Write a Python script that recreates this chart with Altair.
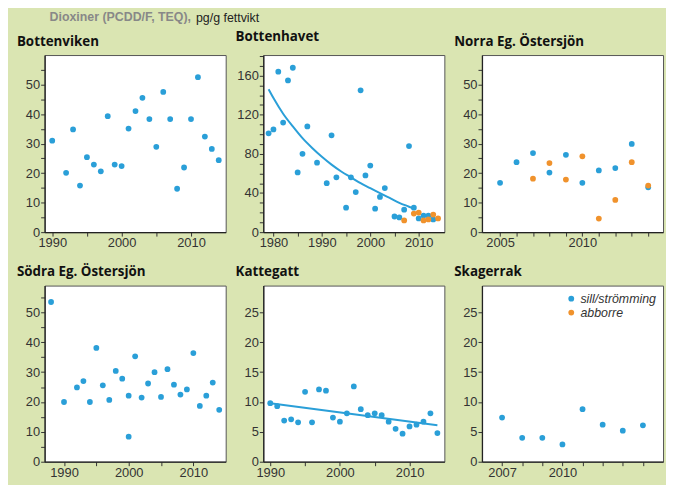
import altair as alt
import pandas as pd

BLUE = "#2a9fd8"
ORANGE = "#f0922c"
BG = "#dae5b2"
LAB = "Liberation Sans"
SERIES = ["sill/strömming", "abborre"]

# ---- data ----
bv_years = [1990, 1992, 1993, 1994, 1995, 1996, 1997, 1998, 1999, 2000, 2001, 2002,
            2003, 2004, 2005, 2006, 2007, 2008, 2009, 2010, 2011, 2012, 2013, 2014]
bv_sill = [31.0, 20.1, 34.8, 15.8, 25.4, 22.9, 20.6, 39.3, 22.9, 22.4, 35.1, 41.0,
           45.5, 38.3, 28.9, 47.5, 38.3, 14.7, 21.9, 38.3, 52.5, 32.4, 28.2, 24.4]

bh_years = [1979, 1980, 1981, 1982, 1983, 1984, 1985, 1986, 1987, 1989, 1991, 1992,
            1993, 1995, 1996, 1997, 1998, 1999, 2000, 2001, 2002, 2003, 2005, 2006,
            2007, 2008, 2009, 2010, 2011, 2012, 2013]
bh_sill = [101, 105, 164, 112, 155, 168, 61, 80, 108, 71, 50, 99,
           56, 25, 56, 41, 145, 58, 68, 24, 36, 45, 16, 15,
           23, 88, 25, 14, 17, 17, 13]
bh_abb_years = [2007, 2009, 2010, 2011, 2012, 2013, 2014]
bh_abb = [12, 19, 20, 12, 13, 18, 14]
bh_trend_years = [1979, 1980, 1982, 1984, 1986, 1988, 1990, 1992, 1994, 1996, 1998,
                  2000, 2002, 2004, 2006, 2008, 2009]
bh_trend = [146, 137, 121, 108, 96, 86, 77, 69, 62, 56, 50, 45, 40, 35, 30, 26, 24]

ne_years = [2005, 2006, 2007, 2008, 2009, 2010, 2011, 2012, 2013, 2014]
ne_sill = [16.7, 23.7, 26.8, 20.2, 26.2, 16.7, 20.9, 21.7, 29.9, 15.2]
ne_abb_years = [2007, 2008, 2009, 2010, 2011, 2012, 2013, 2014]
ne_abb = [18.1, 23.4, 17.8, 25.7, 4.6, 10.9, 23.7, 15.8]

se_years = [1988, 1990, 1992, 1993, 1994, 1995, 1996, 1997, 1998, 1999, 2000, 2000,
            2001, 2002, 2003, 2004, 2005, 2006, 2007, 2008, 2009, 2010, 2011, 2012,
            2013, 2014]
se_sill = [53.5, 20.0, 24.9, 27.0, 20.0, 38.1, 25.6, 20.7, 30.4, 27.8, 22.1, 8.4,
           35.3, 21.5, 26.2, 30.0, 21.7, 31.0, 25.8, 22.5, 24.2, 36.4, 18.7, 22.1,
           26.5, 17.4]

ka_years = list(range(1990, 2015))
ka_sill = [9.8, 9.3, 6.9, 7.1, 6.6, 11.7, 6.6, 12.1, 11.9, 7.4, 6.7, 8.1, 12.6,
           8.8, 7.8, 8.1, 7.8, 6.7, 5.5, 4.7, 5.9, 6.2, 6.7, 8.1, 4.8]
ka_trend_years = [1990, 2014]
ka_trend = [9.8, 6.1]

sk_years = [2007, 2008, 2009, 2010, 2011, 2012, 2013, 2014]
sk_sill = [7.4, 4.0, 4.0, 2.9, 8.8, 6.2, 5.2, 6.1]

titles = ["Bottenviken", "Bottenhavet", "Norra Eg. Östersjön",
          "Södra Eg. Östersjön", "Kattegatt", "Skagerrak"]
header_bold = ["Dioxiner (PCDD/F, TEQ),"]
header_unit = ["pg/g fettvikt"]

W = 183


def expr_in(vals):
    return "indexof([" + ",".join(str(v) for v in vals) + "], datum.value) >= 0 ? datum.label : ''"


def panel(title, years, sill, abb_years=None, abb=None, trend=None,
          xdom=None, ydom=None, xticks=None, xlabels=None, yticks=None, ylabels=None,
          legend=False, curve="monotone", h=179):
    rows = [{"year": y, "v": v, "s": SERIES[0]} for y, v in zip(years, sill)]
    if abb_years:
        rows += [{"year": y, "v": v, "s": SERIES[1]} for y, v in zip(abb_years, abb)]
    df = pd.DataFrame(rows)
    xax = alt.Axis(values=xticks, labelExpr=expr_in(xlabels), format="d", grid=False,
                   tickSize=4, title=None, labelOverlap=False, labelFlush=False)
    yax = alt.Axis(values=yticks, labelExpr=expr_in(ylabels), grid=False, tickSize=4,
                   title=None, labelOverlap=False, labelFlush=False,
                   minExtent=30, maxExtent=30)
    if legend:
        leg = alt.Legend(orient="top-right", offset=7, title=None, labelFontStyle="italic",
                         labelFont=LAB, labelFontSize=12.5, labelColor="#333",
                         symbolType="circle", symbolSize=34, rowPadding=1, padding=0,
                         symbolStrokeWidth=0, labelOffset=3)
    else:
        leg = None
    x = alt.X("year:Q", scale=alt.Scale(domain=xdom, nice=False, zero=False), axis=xax)
    y = alt.Y("v:Q", scale=alt.Scale(domain=ydom, nice=False), axis=yax)
    pts = alt.Chart(df).mark_circle(size=34, opacity=1).encode(
        x=x, y=y,
        color=alt.Color("s:N", scale=alt.Scale(domain=SERIES, range=[BLUE, ORANGE]), legend=leg),
    )
    layers = []
    if trend is not None:
        tdf = pd.DataFrame({"year": trend[0], "v": trend[1]})
        layers.append(alt.Chart(tdf).mark_line(color=BLUE, strokeWidth=2, interpolate=curve)
                      .encode(x=x, y=y))
    layers.append(pts)
    return alt.layer(*layers).properties(
        width=W, height=h,
        title=alt.TitleParams(title, anchor="start", fontSize=13.5, fontWeight="bold",
                              font="Open Sans", color="#111", offset=7, dx=2),
    )


p1 = panel(titles[0], bv_years, bv_sill, xdom=[1988.9, 2015], ydom=[0, 60],
           xticks=[1990, 1995, 2000, 2005, 2010], xlabels=[1990, 2000, 2010],
           yticks=list(range(0, 60, 5)), ylabels=[0, 10, 20, 30, 40, 50])
p2 = panel(titles[1], bh_years, bh_sill, bh_abb_years, bh_abb, trend=(bh_trend_years, bh_trend),
           xdom=[1977.9, 2015.3], ydom=[0, 181],
           xticks=[1980, 1985, 1990, 1995, 2000, 2005, 2010], xlabels=[1980, 1990, 2000, 2010],
           yticks=list(range(0, 190, 10)), ylabels=[0, 40, 80, 120, 160])
p3 = panel(titles[2], ne_years, ne_sill, ne_abb_years, ne_abb,
           xdom=[2003.9, 2014.9], ydom=[0, 60],
           xticks=list(range(2005, 2015)), xlabels=[2005, 2010],
           yticks=list(range(0, 60, 5)), ylabels=[0, 10, 20, 30, 40, 50])
p4 = panel(titles[3], se_years, se_sill, xdom=[1987, 2015], ydom=[0, 59],
           xticks=[1990, 1995, 2000, 2005, 2010], xlabels=[1990, 2000, 2010],
           yticks=list(range(0, 60, 5)), ylabels=[0, 10, 20, 30, 40, 50], h=178)
p5 = panel(titles[4], ka_years, ka_sill, trend=(ka_trend_years, ka_trend), curve="linear",
           xdom=[1989, 2015], ydom=[0, 29.5],
           xticks=[1990, 1995, 2000, 2005, 2010], xlabels=[1990, 2000, 2010],
           yticks=[0, 5, 10, 15, 20, 25], ylabels=[0, 5, 10, 15, 20, 25], h=178)
p6 = panel(titles[5], sk_years, sk_sill, xdom=[2006, 2015], ydom=[0, 29.5],
           xticks=list(range(2007, 2015)), xlabels=[2007, 2010],
           yticks=[0, 5, 10, 15, 20, 25], ylabels=[0, 5, 10, 15, 20, 25], legend=True, h=178)

hdr_df = pd.DataFrame({"a": header_bold, "b": header_unit})
hdr = alt.layer(
    alt.Chart(hdr_df).mark_text(align="left", baseline="top", font=LAB, fontSize=12.5,
                                fontWeight="bold", color="#888888")
    .encode(text="a:N", x=alt.value(5), y=alt.value(0)),
    alt.Chart(hdr_df).mark_text(align="left", baseline="top", font=LAB, fontSize=12.5,
                                color="#222")
    .encode(text="b:N", x=alt.value(153), y=alt.value(0.5)),
).properties(width=600, height=1, view=alt.ViewBackground(stroke="transparent", fill="transparent"))

row1 = alt.hconcat(p1, p2, p3, spacing=6).resolve_scale(color="independent").resolve_legend(color="independent")
row2 = alt.hconcat(p4, p5, p6, spacing=6).resolve_scale(color="independent").resolve_legend(color="independent")
rows = alt.vconcat(row1, row2, spacing=14).resolve_scale(color="independent").resolve_legend(color="independent")

chart = alt.vconcat(hdr, rows, spacing=3).properties(
    padding={"left": 6, "top": 0, "right": 2, "bottom": 2}
).resolve_scale(color="independent").resolve_legend(color="independent").configure(
    background=BG
).configure_view(
    fill="white", stroke="#555", strokeWidth=1
).configure_axis(
    domainColor="#222", domainWidth=1.3, tickColor="#333", tickWidth=1,
    labelFont=LAB, labelFontSize=13, labelColor="#333", labelPadding=1
)

chart.save("out.html", embed_options={"renderer": "svg", "actions": False})
